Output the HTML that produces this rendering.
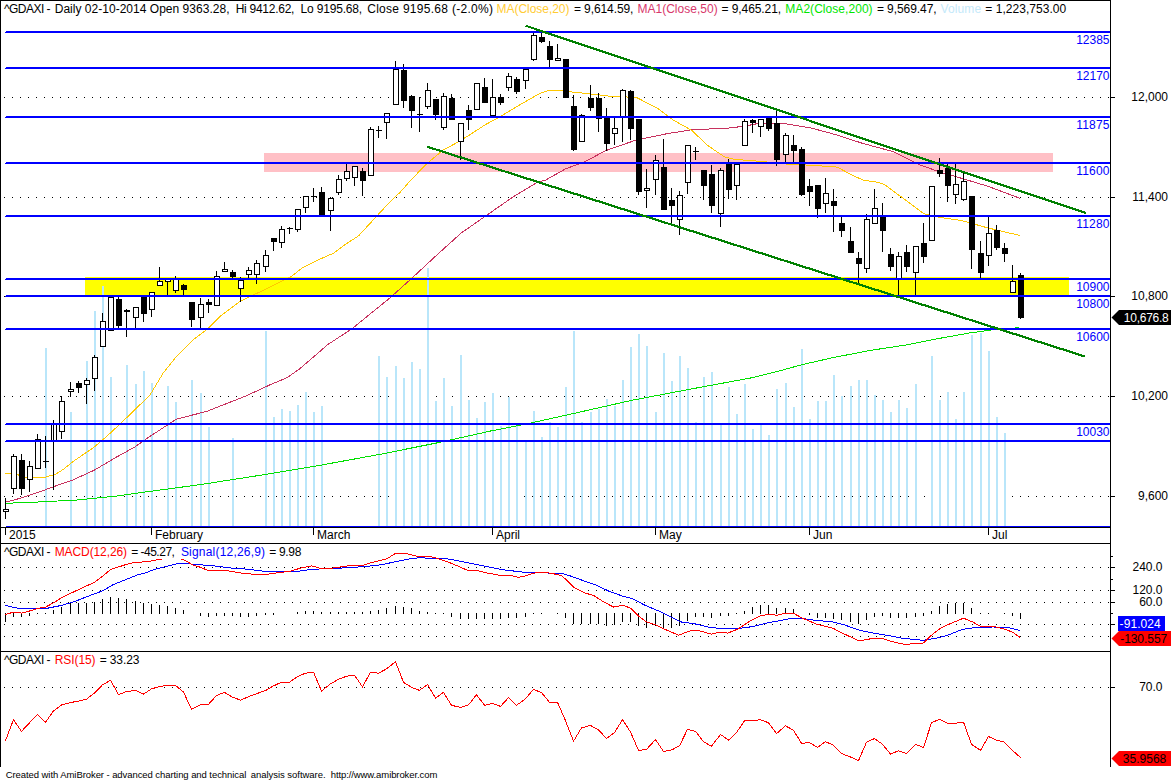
<!DOCTYPE html><html><head><meta charset="utf-8"><title>^GDAXI chart</title>
<style>html,body{margin:0;padding:0;background:#fff}body{width:1171px;height:781px;overflow:hidden}svg{display:block}text{font-family:"Liberation Sans",Arial,sans-serif;font-size:12px;fill:#000}.c{shape-rendering:crispEdges}.b{fill:#0000ff}.s{font-size:11px}</style></head><body>
<svg width="1171" height="781" viewBox="0 0 1171 781">
<rect width="1171" height="781" fill="#fff"/>
<g class="c">
<rect x="264" y="153" width="789" height="19" fill="#ffc0c6"/>
<rect x="85" y="277" width="984" height="19" fill="#ffff00"/>
</g>
<line x1="4" y1="97.5" x2="1110" y2="97.5" stroke="#000" stroke-width="1" stroke-dasharray="1 7" class="c"/>
<line x1="4" y1="197.5" x2="1110" y2="197.5" stroke="#000" stroke-width="1" stroke-dasharray="1 7" class="c"/>
<line x1="4" y1="296.5" x2="1110" y2="296.5" stroke="#000" stroke-width="1" stroke-dasharray="1 7" class="c"/>
<line x1="4" y1="396.5" x2="1110" y2="396.5" stroke="#000" stroke-width="1" stroke-dasharray="1 7" class="c"/>
<line x1="4" y1="496.5" x2="1110" y2="496.5" stroke="#000" stroke-width="1" stroke-dasharray="1 7" class="c"/>
<line x1="4" y1="567.5" x2="1110" y2="567.5" stroke="#000" stroke-width="1" stroke-dasharray="1 7" class="c"/>
<line x1="4" y1="590.5" x2="1110" y2="590.5" stroke="#000" stroke-width="1" stroke-dasharray="1 7" class="c"/>
<line x1="4" y1="602.5" x2="1110" y2="602.5" stroke="#000" stroke-width="1" stroke-dasharray="1 7" class="c"/>
<line x1="4" y1="624.5" x2="1110" y2="624.5" stroke="#000" stroke-width="1" stroke-dasharray="1 7" class="c"/>
<line x1="4" y1="636.5" x2="1110" y2="636.5" stroke="#000" stroke-width="1" stroke-dasharray="1 7" class="c"/>
<line x1="4" y1="687.5" x2="1110" y2="687.5" stroke="#000" stroke-width="1" stroke-dasharray="1 7" class="c"/>
<g class="c" fill="#b9e6fa">
<rect x="45" y="348" width="2" height="178"/>
<rect x="70" y="412" width="2" height="114"/>
<rect x="86" y="361" width="2" height="165"/>
<rect x="94" y="311" width="2" height="215"/>
<rect x="102" y="286" width="2" height="240"/>
<rect x="110" y="377" width="2" height="149"/>
<rect x="126" y="365" width="2" height="161"/>
<rect x="135" y="384" width="2" height="142"/>
<rect x="143" y="371" width="2" height="155"/>
<rect x="151" y="383" width="2" height="143"/>
<rect x="167" y="386" width="2" height="140"/>
<rect x="175" y="402" width="2" height="124"/>
<rect x="191" y="380" width="2" height="146"/>
<rect x="200" y="393" width="2" height="133"/>
<rect x="208" y="427" width="2" height="99"/>
<rect x="232" y="438" width="2" height="88"/>
<rect x="265" y="331" width="2" height="195"/>
<rect x="273" y="417" width="2" height="109"/>
<rect x="281" y="409" width="2" height="117"/>
<rect x="289" y="411" width="2" height="115"/>
<rect x="297" y="405" width="2" height="121"/>
<rect x="305" y="392" width="2" height="134"/>
<rect x="313" y="412" width="2" height="114"/>
<rect x="321" y="406" width="2" height="120"/>
<rect x="378" y="356" width="2" height="170"/>
<rect x="386" y="377" width="2" height="149"/>
<rect x="395" y="366" width="2" height="160"/>
<rect x="403" y="378" width="2" height="148"/>
<rect x="411" y="362" width="2" height="164"/>
<rect x="419" y="369" width="2" height="157"/>
<rect x="427" y="268" width="2" height="258"/>
<rect x="435" y="401" width="2" height="125"/>
<rect x="443" y="378" width="2" height="148"/>
<rect x="451" y="406" width="2" height="120"/>
<rect x="460" y="355" width="2" height="171"/>
<rect x="468" y="400" width="2" height="126"/>
<rect x="476" y="418" width="2" height="108"/>
<rect x="484" y="402" width="2" height="124"/>
<rect x="492" y="393" width="2" height="133"/>
<rect x="500" y="426" width="2" height="100"/>
<rect x="508" y="397" width="2" height="129"/>
<rect x="516" y="426" width="2" height="100"/>
<rect x="525" y="440" width="2" height="86"/>
<rect x="533" y="411" width="2" height="115"/>
<rect x="541" y="437" width="2" height="89"/>
<rect x="549" y="422" width="2" height="104"/>
<rect x="557" y="427" width="2" height="99"/>
<rect x="565" y="387" width="2" height="139"/>
<rect x="573" y="331" width="2" height="195"/>
<rect x="581" y="422" width="2" height="104"/>
<rect x="590" y="412" width="2" height="114"/>
<rect x="598" y="409" width="2" height="117"/>
<rect x="606" y="399" width="2" height="127"/>
<rect x="614" y="406" width="2" height="120"/>
<rect x="622" y="380" width="2" height="146"/>
<rect x="630" y="347" width="2" height="179"/>
<rect x="638" y="334" width="2" height="192"/>
<rect x="646" y="346" width="2" height="180"/>
<rect x="655" y="412" width="2" height="114"/>
<rect x="663" y="353" width="2" height="173"/>
<rect x="671" y="381" width="2" height="145"/>
<rect x="679" y="356" width="2" height="170"/>
<rect x="687" y="368" width="2" height="158"/>
<rect x="695" y="422" width="2" height="104"/>
<rect x="703" y="377" width="2" height="149"/>
<rect x="711" y="372" width="2" height="154"/>
<rect x="720" y="424" width="2" height="102"/>
<rect x="728" y="387" width="2" height="139"/>
<rect x="736" y="414" width="2" height="112"/>
<rect x="744" y="384" width="2" height="142"/>
<rect x="752" y="429" width="2" height="97"/>
<rect x="760" y="424" width="2" height="102"/>
<rect x="768" y="435" width="2" height="91"/>
<rect x="776" y="389" width="2" height="137"/>
<rect x="785" y="383" width="2" height="143"/>
<rect x="793" y="407" width="2" height="119"/>
<rect x="801" y="349" width="2" height="177"/>
<rect x="809" y="419" width="2" height="107"/>
<rect x="817" y="401" width="2" height="125"/>
<rect x="825" y="401" width="2" height="125"/>
<rect x="833" y="375" width="2" height="151"/>
<rect x="841" y="396" width="2" height="130"/>
<rect x="850" y="386" width="2" height="140"/>
<rect x="858" y="380" width="2" height="146"/>
<rect x="866" y="380" width="2" height="146"/>
<rect x="874" y="395" width="2" height="131"/>
<rect x="882" y="400" width="2" height="126"/>
<rect x="890" y="412" width="2" height="114"/>
<rect x="898" y="400" width="2" height="126"/>
<rect x="906" y="408" width="2" height="118"/>
<rect x="915" y="384" width="2" height="142"/>
<rect x="931" y="356" width="2" height="170"/>
<rect x="939" y="400" width="2" height="126"/>
<rect x="947" y="392" width="2" height="134"/>
<rect x="955" y="419" width="2" height="107"/>
<rect x="963" y="392" width="2" height="134"/>
<rect x="971" y="335" width="2" height="191"/>
<rect x="980" y="333" width="2" height="193"/>
<rect x="988" y="351" width="2" height="175"/>
<rect x="996" y="417" width="2" height="109"/>
<rect x="1004" y="433" width="2" height="93"/>
</g>
<polyline points="5.8,503.3 38.4,502.0 76.8,500.0 115.2,496.2 149.8,491.4 199.7,484.7 255.0,476.1 313.9,466.4 378.7,454.6 440.5,442.2 490.6,431.0 525.0,424.3 573.9,413.4 632.8,400.1 691.7,388.9 750.6,378.0 775.0,372.1 801.5,364.8 833.9,357.4 872.2,350.1 907.5,344.8 939.9,338.3 969.3,333.0 995.8,329.4 1019.4,327.7" fill="none" stroke="#00e000" stroke-width="1" class="c"/>
<polyline points="5.8,502.0 21.1,498.1 38.4,492.3 53.8,486.6 73.0,479.9 94.1,470.3 115.2,457.8 134.4,447.2 149.8,436.5 176.4,419.1 206.4,411.5 246.3,395.8 270.0,384.8 286.9,377.8 299.2,369.2 319.8,351.5 327.9,344.5 352.2,328.6 372.8,311.8 389.4,298.4 409.9,280.0 435.5,256.2 461.1,233.1 486.8,215.2 512.4,197.3 538.0,181.9 545.8,180.0 565.4,168.9 585.0,161.6 605.5,150.7 636.2,140.0 667.0,133.7 691.5,129.8 728.4,128.1 745.0,126.1 760.6,123.0 786.2,123.8 811.8,128.2 837.4,135.1 863.0,143.5 892.7,151.5 918.3,164.3 940.0,172.0 961.8,178.4 987.4,186.1 1020.2,198.4" fill="none" stroke="#c8325f" stroke-width="1" class="c"/>
<polyline points="4.8,473.5 17.3,474.1 21.1,477.0 44.2,477.6 55.7,474.1 63.4,469.3 73.0,461.6 94.1,447.2 107.5,435.7 122.9,421.3 150.0,395.0 163.1,373.2 176.4,356.6 193.1,339.9 208.8,327.9 219.7,316.6 239.7,301.6 248.4,297.1 264.1,290.0 291.0,276.7 302.5,267.7 317.9,260.0 333.3,253.3 345.0,244.7 358.7,235.7 389.4,202.4 400.3,192.1 410.9,180.0 427.2,163.3 443.5,149.8 457.9,142.2 471.8,133.5 485.0,124.9 500.1,116.6 521.9,103.6 539.3,93.8 548.0,90.5 563.2,90.5 574.1,92.3 585.0,93.3 611.6,96.4 636.2,97.4 656.7,107.7 673.1,120.0 691.5,130.2 707.9,145.6 724.3,156.8 735.0,159.4 760.6,161.4 786.2,164.0 811.8,165.3 837.4,167.1 850.2,174.2 863.0,180.1 878.4,182.4 885.0,184.8 900.4,196.3 923.4,213.5 936.2,216.8 961.8,220.6 987.4,227.8 1019.9,235.5" fill="none" stroke="#ffc800" stroke-width="1" class="c"/>
<g class="c">
<rect x="5" y="498" width="1" height="21" fill="#000"/>
<rect x="3.5" y="509.5" width="5" height="2" fill="#fff" stroke="#000" stroke-width="1"/>
<rect x="13" y="454" width="1" height="40" fill="#000"/>
<rect x="11.5" y="456.5" width="5" height="32" fill="#fff" stroke="#000" stroke-width="1"/>
<rect x="21" y="454" width="1" height="41" fill="#000"/>
<rect x="19" y="460" width="6" height="29" fill="#000"/>
<rect x="29" y="461" width="1" height="31" fill="#000"/>
<rect x="27.5" y="466.5" width="5" height="13" fill="#fff" stroke="#000" stroke-width="1"/>
<rect x="37" y="434" width="1" height="35" fill="#000"/>
<rect x="35.5" y="439.5" width="5" height="29" fill="#fff" stroke="#000" stroke-width="1"/>
<rect x="45" y="436" width="1" height="32" fill="#000"/>
<rect x="43" y="461" width="6" height="1" fill="#000"/>
<rect x="53" y="420" width="1" height="70" fill="#000"/>
<rect x="51.5" y="424.5" width="5" height="16" fill="none" stroke="#000" stroke-width="1"/>
<rect x="61" y="396" width="1" height="43" fill="#000"/>
<rect x="59.5" y="401.5" width="5" height="30" fill="#fff" stroke="#000" stroke-width="1"/>
<rect x="70" y="382" width="1" height="15" fill="#000"/>
<rect x="68.5" y="389.5" width="5" height="2" fill="#fff" stroke="#000" stroke-width="1"/>
<rect x="78" y="381" width="1" height="12" fill="#000"/>
<rect x="76" y="383" width="6" height="5" fill="#000"/>
<rect x="86" y="378" width="1" height="26" fill="#000"/>
<rect x="84.5" y="380.5" width="5" height="4" fill="#fff" stroke="#000" stroke-width="1"/>
<rect x="94" y="355" width="1" height="36" fill="#000"/>
<rect x="92.5" y="357.5" width="5" height="21" fill="#fff" stroke="#000" stroke-width="1"/>
<rect x="102" y="313" width="1" height="34" fill="#000"/>
<rect x="100.5" y="321.5" width="5" height="25" fill="#fff" stroke="#000" stroke-width="1"/>
<rect x="110" y="297" width="1" height="34" fill="#000"/>
<rect x="108.5" y="297.5" width="5" height="33" fill="#fff" stroke="#000" stroke-width="1"/>
<rect x="118" y="297" width="1" height="33" fill="#000"/>
<rect x="116" y="299" width="6" height="27" fill="#000"/>
<rect x="126" y="309" width="1" height="28" fill="#000"/>
<rect x="124" y="310" width="6" height="2" fill="#000"/>
<rect x="135" y="307" width="1" height="22" fill="#000"/>
<rect x="133.5" y="307.5" width="5" height="10" fill="#fff" stroke="#000" stroke-width="1"/>
<rect x="143" y="296" width="1" height="26" fill="#000"/>
<rect x="141" y="297" width="6" height="17" fill="#000"/>
<rect x="151" y="292" width="1" height="25" fill="#000"/>
<rect x="149.5" y="292.5" width="5" height="17" fill="#fff" stroke="#000" stroke-width="1"/>
<rect x="159" y="267" width="1" height="19" fill="#000"/>
<rect x="157.5" y="281.5" width="5" height="4" fill="#fff" stroke="#000" stroke-width="1"/>
<rect x="167" y="279" width="1" height="16" fill="#000"/>
<rect x="165.5" y="279.5" width="5" height="2" fill="#fff" stroke="#000" stroke-width="1"/>
<rect x="175" y="276" width="1" height="17" fill="#000"/>
<rect x="173.5" y="279.5" width="5" height="11" fill="#fff" stroke="#000" stroke-width="1"/>
<rect x="183" y="284" width="1" height="11" fill="#000"/>
<rect x="181" y="285" width="6" height="5" fill="#000"/>
<rect x="191" y="302" width="1" height="25" fill="#000"/>
<rect x="189" y="302" width="6" height="18" fill="#000"/>
<rect x="200" y="298" width="1" height="30" fill="#000"/>
<rect x="198.5" y="304.5" width="5" height="13" fill="#fff" stroke="#000" stroke-width="1"/>
<rect x="208" y="299" width="1" height="14" fill="#000"/>
<rect x="206" y="302" width="6" height="3" fill="#000"/>
<rect x="216" y="271" width="1" height="35" fill="#000"/>
<rect x="214.5" y="276.5" width="5" height="29" fill="#fff" stroke="#000" stroke-width="1"/>
<rect x="224" y="262" width="1" height="10" fill="#000"/>
<rect x="222.5" y="269.5" width="5" height="2" fill="#fff" stroke="#000" stroke-width="1"/>
<rect x="232" y="270" width="1" height="8" fill="#000"/>
<rect x="230" y="272" width="6" height="5" fill="#000"/>
<rect x="240" y="277" width="1" height="25" fill="#000"/>
<rect x="238.5" y="280.5" width="5" height="8" fill="#fff" stroke="#000" stroke-width="1"/>
<rect x="248" y="267" width="1" height="11" fill="#000"/>
<rect x="246.5" y="270.5" width="5" height="4" fill="#fff" stroke="#000" stroke-width="1"/>
<rect x="256" y="260" width="1" height="24" fill="#000"/>
<rect x="254.5" y="263.5" width="5" height="11" fill="#fff" stroke="#000" stroke-width="1"/>
<rect x="265" y="250" width="1" height="22" fill="#000"/>
<rect x="263.5" y="255.5" width="5" height="11" fill="#fff" stroke="#000" stroke-width="1"/>
<rect x="273" y="238" width="1" height="13" fill="#000"/>
<rect x="271" y="238" width="6" height="4" fill="#000"/>
<rect x="281" y="226" width="1" height="22" fill="#000"/>
<rect x="279.5" y="229.5" width="5" height="13" fill="#fff" stroke="#000" stroke-width="1"/>
<rect x="289" y="227" width="1" height="7" fill="#000"/>
<rect x="287" y="228" width="6" height="1" fill="#000"/>
<rect x="297" y="209" width="1" height="23" fill="#000"/>
<rect x="295.5" y="209.5" width="5" height="20" fill="#fff" stroke="#000" stroke-width="1"/>
<rect x="305" y="196" width="1" height="17" fill="#000"/>
<rect x="303.5" y="196.5" width="5" height="11" fill="#fff" stroke="#000" stroke-width="1"/>
<rect x="313" y="188" width="1" height="14" fill="#000"/>
<rect x="311" y="196" width="6" height="1" fill="#000"/>
<rect x="321" y="187" width="1" height="28" fill="#000"/>
<rect x="319" y="192" width="6" height="23" fill="#000"/>
<rect x="330" y="197" width="1" height="34" fill="#000"/>
<rect x="328.5" y="198.5" width="5" height="12" fill="#fff" stroke="#000" stroke-width="1"/>
<rect x="338" y="175" width="1" height="20" fill="#000"/>
<rect x="336.5" y="179.5" width="5" height="13" fill="#fff" stroke="#000" stroke-width="1"/>
<rect x="346" y="164" width="1" height="17" fill="#000"/>
<rect x="344.5" y="171.5" width="5" height="7" fill="#fff" stroke="#000" stroke-width="1"/>
<rect x="354" y="166" width="1" height="20" fill="#000"/>
<rect x="352.5" y="166.5" width="5" height="11" fill="#fff" stroke="#000" stroke-width="1"/>
<rect x="362" y="168" width="1" height="28" fill="#000"/>
<rect x="360" y="171" width="6" height="10" fill="#000"/>
<rect x="370" y="127" width="1" height="49" fill="#000"/>
<rect x="368.5" y="129.5" width="5" height="46" fill="#fff" stroke="#000" stroke-width="1"/>
<rect x="378" y="126" width="1" height="12" fill="#000"/>
<rect x="376" y="130" width="6" height="1" fill="#000"/>
<rect x="386" y="113" width="1" height="26" fill="#000"/>
<rect x="384.5" y="113.5" width="5" height="9" fill="#fff" stroke="#000" stroke-width="1"/>
<rect x="395" y="61" width="1" height="44" fill="#000"/>
<rect x="393.5" y="69.5" width="5" height="35" fill="#fff" stroke="#000" stroke-width="1"/>
<rect x="403" y="64" width="1" height="44" fill="#000"/>
<rect x="401" y="70" width="6" height="31" fill="#000"/>
<rect x="411" y="95" width="1" height="33" fill="#000"/>
<rect x="409" y="96" width="6" height="15" fill="#000"/>
<rect x="419" y="97" width="1" height="35" fill="#000"/>
<rect x="417" y="114" width="6" height="1" fill="#000"/>
<rect x="427" y="83" width="1" height="26" fill="#000"/>
<rect x="425.5" y="90.5" width="5" height="16" fill="#fff" stroke="#000" stroke-width="1"/>
<rect x="435" y="99" width="1" height="21" fill="#000"/>
<rect x="433" y="99" width="6" height="16" fill="#000"/>
<rect x="443" y="93" width="1" height="37" fill="#000"/>
<rect x="441.5" y="96.5" width="5" height="31" fill="#fff" stroke="#000" stroke-width="1"/>
<rect x="451" y="94" width="1" height="26" fill="#000"/>
<rect x="449" y="98" width="6" height="22" fill="#000"/>
<rect x="460" y="123" width="1" height="37" fill="#000"/>
<rect x="458.5" y="123.5" width="5" height="18" fill="#fff" stroke="#000" stroke-width="1"/>
<rect x="468" y="105" width="1" height="25" fill="#000"/>
<rect x="466" y="110" width="6" height="10" fill="#000"/>
<rect x="476" y="83" width="1" height="27" fill="#000"/>
<rect x="474.5" y="83.5" width="5" height="26" fill="#fff" stroke="#000" stroke-width="1"/>
<rect x="484" y="78" width="1" height="25" fill="#000"/>
<rect x="482" y="87" width="6" height="16" fill="#000"/>
<rect x="492" y="79" width="1" height="37" fill="#000"/>
<rect x="490.5" y="97.5" width="5" height="18" fill="#fff" stroke="#000" stroke-width="1"/>
<rect x="500" y="94" width="1" height="11" fill="#000"/>
<rect x="498" y="97" width="6" height="6" fill="#000"/>
<rect x="508" y="73" width="1" height="18" fill="#000"/>
<rect x="506.5" y="76.5" width="5" height="11" fill="#fff" stroke="#000" stroke-width="1"/>
<rect x="516" y="77" width="1" height="17" fill="#000"/>
<rect x="514" y="79" width="6" height="13" fill="#000"/>
<rect x="525" y="69" width="1" height="20" fill="#000"/>
<rect x="523.5" y="69.5" width="5" height="11" fill="#fff" stroke="#000" stroke-width="1"/>
<rect x="533" y="32" width="1" height="29" fill="#000"/>
<rect x="531.5" y="35.5" width="5" height="24" fill="#fff" stroke="#000" stroke-width="1"/>
<rect x="541" y="33" width="1" height="10" fill="#000"/>
<rect x="539" y="37" width="6" height="5" fill="#000"/>
<rect x="549" y="41" width="1" height="26" fill="#000"/>
<rect x="547" y="46" width="6" height="14" fill="#000"/>
<rect x="557" y="44" width="1" height="17" fill="#000"/>
<rect x="555.5" y="58.5" width="5" height="2" fill="#fff" stroke="#000" stroke-width="1"/>
<rect x="565" y="59" width="1" height="39" fill="#000"/>
<rect x="563" y="59" width="6" height="39" fill="#000"/>
<rect x="573" y="95" width="1" height="56" fill="#000"/>
<rect x="571" y="106" width="6" height="44" fill="#000"/>
<rect x="581" y="114" width="1" height="28" fill="#000"/>
<rect x="579.5" y="115.5" width="5" height="26" fill="#fff" stroke="#000" stroke-width="1"/>
<rect x="590" y="85" width="1" height="26" fill="#000"/>
<rect x="588" y="98" width="6" height="10" fill="#000"/>
<rect x="598" y="93" width="1" height="39" fill="#000"/>
<rect x="596" y="98" width="6" height="21" fill="#000"/>
<rect x="606" y="108" width="1" height="43" fill="#000"/>
<rect x="604" y="118" width="6" height="26" fill="#000"/>
<rect x="614" y="118" width="1" height="27" fill="#000"/>
<rect x="612.5" y="128.5" width="5" height="5" fill="#fff" stroke="#000" stroke-width="1"/>
<rect x="622" y="89" width="1" height="53" fill="#000"/>
<rect x="620.5" y="90.5" width="5" height="26" fill="#fff" stroke="#000" stroke-width="1"/>
<rect x="630" y="90" width="1" height="50" fill="#000"/>
<rect x="628" y="91" width="6" height="38" fill="#000"/>
<rect x="638" y="119" width="1" height="76" fill="#000"/>
<rect x="636" y="119" width="6" height="73" fill="#000"/>
<rect x="646" y="169" width="1" height="39" fill="#000"/>
<rect x="644.5" y="188.5" width="5" height="2" fill="#fff" stroke="#000" stroke-width="1"/>
<rect x="655" y="155" width="1" height="40" fill="#000"/>
<rect x="653.5" y="160.5" width="5" height="19" fill="#fff" stroke="#000" stroke-width="1"/>
<rect x="663" y="139" width="1" height="71" fill="#000"/>
<rect x="661" y="167" width="6" height="43" fill="#000"/>
<rect x="671" y="188" width="1" height="35" fill="#000"/>
<rect x="669" y="200" width="6" height="6" fill="#000"/>
<rect x="679" y="191" width="1" height="44" fill="#000"/>
<rect x="677.5" y="195.5" width="5" height="24" fill="#fff" stroke="#000" stroke-width="1"/>
<rect x="687" y="145" width="1" height="49" fill="#000"/>
<rect x="685.5" y="145.5" width="5" height="37" fill="#fff" stroke="#000" stroke-width="1"/>
<rect x="695" y="147" width="1" height="13" fill="#000"/>
<rect x="693" y="151" width="6" height="1" fill="#000"/>
<rect x="703" y="170" width="1" height="30" fill="#000"/>
<rect x="701" y="170" width="6" height="16" fill="#000"/>
<rect x="711" y="165" width="1" height="48" fill="#000"/>
<rect x="709" y="174" width="6" height="32" fill="#000"/>
<rect x="720" y="168" width="1" height="59" fill="#000"/>
<rect x="718.5" y="170.5" width="5" height="43" fill="#fff" stroke="#000" stroke-width="1"/>
<rect x="728" y="159" width="1" height="40" fill="#000"/>
<rect x="726" y="163" width="6" height="27" fill="#000"/>
<rect x="736" y="164" width="1" height="36" fill="#000"/>
<rect x="734.5" y="164.5" width="5" height="21" fill="#fff" stroke="#000" stroke-width="1"/>
<rect x="744" y="119" width="1" height="27" fill="#000"/>
<rect x="742.5" y="121.5" width="5" height="24" fill="#fff" stroke="#000" stroke-width="1"/>
<rect x="752" y="119" width="1" height="14" fill="#000"/>
<rect x="750" y="120" width="6" height="3" fill="#000"/>
<rect x="760" y="119" width="1" height="18" fill="#000"/>
<rect x="758.5" y="119.5" width="5" height="7" fill="#fff" stroke="#000" stroke-width="1"/>
<rect x="768" y="117" width="1" height="14" fill="#000"/>
<rect x="766" y="117" width="6" height="12" fill="#000"/>
<rect x="776" y="110" width="1" height="56" fill="#000"/>
<rect x="774" y="123" width="6" height="37" fill="#000"/>
<rect x="785" y="133" width="1" height="30" fill="#000"/>
<rect x="783.5" y="135.5" width="5" height="19" fill="#fff" stroke="#000" stroke-width="1"/>
<rect x="793" y="135" width="1" height="28" fill="#000"/>
<rect x="791" y="145" width="6" height="6" fill="#000"/>
<rect x="801" y="147" width="1" height="49" fill="#000"/>
<rect x="799" y="149" width="6" height="46" fill="#000"/>
<rect x="809" y="179" width="1" height="27" fill="#000"/>
<rect x="807" y="186" width="6" height="6" fill="#000"/>
<rect x="817" y="185" width="1" height="33" fill="#000"/>
<rect x="815" y="185" width="6" height="24" fill="#000"/>
<rect x="825" y="178" width="1" height="35" fill="#000"/>
<rect x="823.5" y="193.5" width="5" height="10" fill="#fff" stroke="#000" stroke-width="1"/>
<rect x="833" y="189" width="1" height="43" fill="#000"/>
<rect x="831" y="201" width="6" height="5" fill="#000"/>
<rect x="841" y="216" width="1" height="21" fill="#000"/>
<rect x="839" y="223" width="6" height="8" fill="#000"/>
<rect x="850" y="227" width="1" height="26" fill="#000"/>
<rect x="848" y="241" width="6" height="12" fill="#000"/>
<rect x="858" y="252" width="1" height="33" fill="#000"/>
<rect x="856" y="258" width="6" height="6" fill="#000"/>
<rect x="866" y="214" width="1" height="59" fill="#000"/>
<rect x="864.5" y="219.5" width="5" height="49" fill="#fff" stroke="#000" stroke-width="1"/>
<rect x="874" y="189" width="1" height="35" fill="#000"/>
<rect x="872.5" y="208.5" width="5" height="15" fill="#fff" stroke="#000" stroke-width="1"/>
<rect x="882" y="203" width="1" height="49" fill="#000"/>
<rect x="880" y="216" width="6" height="15" fill="#000"/>
<rect x="890" y="248" width="1" height="23" fill="#000"/>
<rect x="888" y="254" width="6" height="13" fill="#000"/>
<rect x="898" y="252" width="1" height="44" fill="#000"/>
<rect x="896.5" y="256.5" width="5" height="22" fill="#fff" stroke="#000" stroke-width="1"/>
<rect x="906" y="245" width="1" height="27" fill="#000"/>
<rect x="904" y="252" width="6" height="15" fill="#000"/>
<rect x="915" y="246" width="1" height="50" fill="#000"/>
<rect x="913.5" y="246.5" width="5" height="26" fill="#fff" stroke="#000" stroke-width="1"/>
<rect x="923" y="223" width="1" height="40" fill="#000"/>
<rect x="921" y="243" width="6" height="14" fill="#000"/>
<rect x="931" y="186" width="1" height="55" fill="#000"/>
<rect x="929.5" y="186.5" width="5" height="54" fill="#fff" stroke="#000" stroke-width="1"/>
<rect x="939" y="158" width="1" height="19" fill="#000"/>
<rect x="937" y="170" width="6" height="4" fill="#000"/>
<rect x="947" y="164" width="1" height="38" fill="#000"/>
<rect x="945" y="168" width="6" height="18" fill="#000"/>
<rect x="955" y="164" width="1" height="40" fill="#000"/>
<rect x="953.5" y="184.5" width="5" height="10" fill="#fff" stroke="#000" stroke-width="1"/>
<rect x="963" y="173" width="1" height="28" fill="#000"/>
<rect x="961.5" y="181.5" width="5" height="18" fill="#fff" stroke="#000" stroke-width="1"/>
<rect x="971" y="196" width="1" height="73" fill="#000"/>
<rect x="969" y="196" width="6" height="54" fill="#000"/>
<rect x="980" y="241" width="1" height="38" fill="#000"/>
<rect x="978" y="253" width="6" height="20" fill="#000"/>
<rect x="988" y="216" width="1" height="50" fill="#000"/>
<rect x="986.5" y="233.5" width="5" height="22" fill="#fff" stroke="#000" stroke-width="1"/>
<rect x="996" y="225" width="1" height="25" fill="#000"/>
<rect x="994" y="230" width="6" height="18" fill="#000"/>
<rect x="1004" y="243" width="1" height="19" fill="#000"/>
<rect x="1002" y="248" width="6" height="6" fill="#000"/>
<rect x="1012" y="265" width="1" height="28" fill="#000"/>
<rect x="1010.5" y="281.5" width="5" height="11" fill="#fff" stroke="#000" stroke-width="1"/>
<rect x="1020" y="273" width="1" height="46" fill="#000"/>
<rect x="1018" y="275" width="6" height="43" fill="#000"/>
</g>
<g class="c b">
<rect x="6" y="31" width="1104" height="1"/><rect x="5" y="32" width="1105" height="1"/>
<rect x="6" y="67" width="1104" height="1"/><rect x="5" y="68" width="1105" height="1"/>
<rect x="6" y="116" width="1104" height="1"/><rect x="5" y="117" width="1105" height="1"/>
<rect x="6" y="162" width="1104" height="1"/><rect x="5" y="163" width="1105" height="1"/>
<rect x="6" y="215" width="1104" height="1"/><rect x="5" y="216" width="1105" height="1"/>
<rect x="6" y="278" width="1104" height="1"/><rect x="5" y="279" width="1105" height="1"/>
<rect x="6" y="295" width="1104" height="1"/><rect x="5" y="296" width="1105" height="1"/>
<rect x="6" y="328" width="1104" height="1"/><rect x="5" y="329" width="1105" height="1"/>
<rect x="6" y="423" width="1104" height="1"/><rect x="5" y="424" width="1105" height="1"/>
<rect x="6" y="440" width="1104" height="1"/><rect x="5" y="441" width="1105" height="1"/>
<rect x="6" y="526" width="1104" height="1"/>
</g>
<line x1="525.6" y1="25.7" x2="1085.8" y2="213.1" stroke="#008000" stroke-width="2.2" class="c"/>
<line x1="427.2" y1="146.7" x2="1085" y2="356.5" stroke="#008000" stroke-width="2.2" class="c"/>
<g class="c" fill="#000">
<rect x="0" y="0" width="1111" height="1"/>
<rect x="0" y="0" width="1" height="767"/>
<rect x="1110" y="0" width="1" height="767"/>
<rect x="0" y="543" width="1111" height="1"/>
<rect x="0" y="527" width="1111" height="1"/>
<rect x="0" y="651" width="1111" height="1"/>
<rect x="1111" y="97" width="4" height="1"/>
<rect x="1111" y="197" width="4" height="1"/>
<rect x="1111" y="296" width="4" height="1"/>
<rect x="1111" y="396" width="4" height="1"/>
<rect x="1111" y="496" width="4" height="1"/>
<rect x="1111" y="567" width="4" height="1"/>
<rect x="1111" y="590" width="4" height="1"/>
<rect x="1111" y="602" width="4" height="1"/>
<rect x="1111" y="624" width="4" height="1"/>
<rect x="1111" y="687" width="4" height="1"/>
<rect x="1111" y="556" width="2" height="1"/>
<rect x="1111" y="579" width="2" height="1"/>
<rect x="1111" y="613" width="2" height="1"/>
<rect x="5" y="528" width="1" height="7"/>
<rect x="151" y="528" width="1" height="7"/>
<rect x="313" y="528" width="1" height="7"/>
<rect x="492" y="528" width="1" height="7"/>
<rect x="655" y="528" width="1" height="7"/>
<rect x="809" y="528" width="1" height="7"/>
<rect x="988" y="528" width="1" height="7"/>
</g>
<text x="9" y="538.7">2015</text>
<text x="155" y="538.7">February</text>
<text x="317" y="538.7">March</text>
<text x="496" y="538.7">April</text>
<text x="659" y="538.7">May</text>
<text x="813" y="538.7">Jun</text>
<text x="992" y="538.7">Jul</text>
<text x="1109.5" y="43.7" text-anchor="end" textLength="33.3" lengthAdjust="spacing" style="fill:#0000ff">12385</text>
<text x="1109.5" y="79.7" text-anchor="end" textLength="33.3" lengthAdjust="spacing" style="fill:#0000ff">12170</text>
<text x="1109.5" y="128.7" text-anchor="end" textLength="33.3" lengthAdjust="spacing" style="fill:#0000ff">11875</text>
<text x="1109.5" y="174.7" text-anchor="end" textLength="33.3" lengthAdjust="spacing" style="fill:#0000ff">11600</text>
<text x="1109.5" y="227.7" text-anchor="end" textLength="33.3" lengthAdjust="spacing" style="fill:#0000ff">11280</text>
<text x="1109.5" y="290.7" text-anchor="end" textLength="33.3" lengthAdjust="spacing" style="fill:#0000ff">10900</text>
<text x="1109.5" y="307.7" text-anchor="end" textLength="33.3" lengthAdjust="spacing" style="fill:#0000ff">10800</text>
<text x="1109.5" y="340.7" text-anchor="end" textLength="33.3" lengthAdjust="spacing" style="fill:#0000ff">10600</text>
<text x="1109.5" y="435.7" text-anchor="end" textLength="33.3" lengthAdjust="spacing" style="fill:#0000ff">10030</text>
<text x="1168" y="101.3" text-anchor="end">12,000</text>
<text x="1168" y="201.3" text-anchor="end">11,400</text>
<text x="1168" y="300.3" text-anchor="end">10,800</text>
<text x="1168" y="400.3" text-anchor="end">10,200</text>
<text x="1168" y="500.3" text-anchor="end">9,600</text>
<text x="1162.5" y="571.3" text-anchor="end">240.0</text>
<text x="1162.5" y="594.3" text-anchor="end">120.0</text>
<text x="1162.5" y="606.3" text-anchor="end">60.0</text>
<text x="1162.5" y="691.3" text-anchor="end">70.0</text>
<g class="c" fill="#000">
<rect x="5" y="613" width="1" height="9"/>
<rect x="13" y="613" width="1" height="4"/>
<rect x="21" y="613" width="1" height="4"/>
<rect x="29" y="613" width="1" height="3"/>
<rect x="37" y="613" width="1" height="1"/>
<rect x="45" y="613" width="1" height="1"/>
<rect x="53" y="610" width="1" height="4"/>
<rect x="61" y="607" width="1" height="7"/>
<rect x="70" y="603" width="1" height="11"/>
<rect x="78" y="603" width="1" height="11"/>
<rect x="86" y="603" width="1" height="11"/>
<rect x="94" y="602" width="1" height="12"/>
<rect x="102" y="599" width="1" height="15"/>
<rect x="110" y="597" width="1" height="17"/>
<rect x="118" y="598" width="1" height="16"/>
<rect x="126" y="599" width="1" height="15"/>
<rect x="135" y="601" width="1" height="13"/>
<rect x="143" y="603" width="1" height="11"/>
<rect x="151" y="604" width="1" height="10"/>
<rect x="159" y="605" width="1" height="9"/>
<rect x="167" y="606" width="1" height="8"/>
<rect x="175" y="608" width="1" height="6"/>
<rect x="183" y="610" width="1" height="4"/>
<rect x="200" y="613" width="1" height="3"/>
<rect x="208" y="613" width="1" height="4"/>
<rect x="216" y="613" width="1" height="3"/>
<rect x="224" y="613" width="1" height="3"/>
<rect x="232" y="613" width="1" height="3"/>
<rect x="240" y="613" width="1" height="4"/>
<rect x="248" y="613" width="1" height="4"/>
<rect x="256" y="613" width="1" height="3"/>
<rect x="265" y="613" width="1" height="2"/>
<rect x="273" y="613" width="1" height="2"/>
<rect x="297" y="612" width="1" height="2"/>
<rect x="305" y="611" width="1" height="3"/>
<rect x="313" y="611" width="1" height="3"/>
<rect x="321" y="612" width="1" height="2"/>
<rect x="330" y="612" width="1" height="2"/>
<rect x="338" y="612" width="1" height="2"/>
<rect x="346" y="612" width="1" height="2"/>
<rect x="354" y="612" width="1" height="2"/>
<rect x="362" y="612" width="1" height="2"/>
<rect x="370" y="611" width="1" height="3"/>
<rect x="378" y="610" width="1" height="4"/>
<rect x="386" y="608" width="1" height="6"/>
<rect x="395" y="606" width="1" height="8"/>
<rect x="403" y="607" width="1" height="7"/>
<rect x="411" y="608" width="1" height="6"/>
<rect x="419" y="611" width="1" height="3"/>
<rect x="427" y="612" width="1" height="2"/>
<rect x="435" y="613" width="1" height="1"/>
<rect x="443" y="613" width="1" height="1"/>
<rect x="451" y="613" width="1" height="4"/>
<rect x="460" y="613" width="1" height="6"/>
<rect x="468" y="613" width="1" height="6"/>
<rect x="476" y="613" width="1" height="6"/>
<rect x="484" y="613" width="1" height="6"/>
<rect x="492" y="613" width="1" height="6"/>
<rect x="500" y="613" width="1" height="6"/>
<rect x="508" y="613" width="1" height="5"/>
<rect x="516" y="613" width="1" height="5"/>
<rect x="525" y="613" width="1" height="4"/>
<rect x="533" y="613" width="1" height="1"/>
<rect x="541" y="613" width="1" height="1"/>
<rect x="557" y="613" width="1" height="1"/>
<rect x="565" y="613" width="1" height="5"/>
<rect x="573" y="613" width="1" height="11"/>
<rect x="581" y="613" width="1" height="11"/>
<rect x="590" y="613" width="1" height="11"/>
<rect x="598" y="613" width="1" height="11"/>
<rect x="606" y="613" width="1" height="13"/>
<rect x="614" y="613" width="1" height="12"/>
<rect x="622" y="613" width="1" height="9"/>
<rect x="630" y="613" width="1" height="9"/>
<rect x="638" y="613" width="1" height="13"/>
<rect x="646" y="613" width="1" height="15"/>
<rect x="655" y="613" width="1" height="13"/>
<rect x="663" y="613" width="1" height="15"/>
<rect x="671" y="613" width="1" height="15"/>
<rect x="679" y="613" width="1" height="13"/>
<rect x="687" y="613" width="1" height="8"/>
<rect x="695" y="613" width="1" height="4"/>
<rect x="703" y="613" width="1" height="4"/>
<rect x="711" y="613" width="1" height="5"/>
<rect x="720" y="613" width="1" height="3"/>
<rect x="728" y="613" width="1" height="3"/>
<rect x="736" y="613" width="1" height="1"/>
<rect x="744" y="611" width="1" height="3"/>
<rect x="752" y="607" width="1" height="7"/>
<rect x="760" y="605" width="1" height="9"/>
<rect x="768" y="605" width="1" height="9"/>
<rect x="776" y="608" width="1" height="6"/>
<rect x="785" y="608" width="1" height="6"/>
<rect x="793" y="609" width="1" height="5"/>
<rect x="809" y="613" width="1" height="2"/>
<rect x="817" y="613" width="1" height="5"/>
<rect x="825" y="613" width="1" height="5"/>
<rect x="833" y="613" width="1" height="6"/>
<rect x="841" y="613" width="1" height="7"/>
<rect x="850" y="613" width="1" height="9"/>
<rect x="858" y="613" width="1" height="11"/>
<rect x="866" y="613" width="1" height="7"/>
<rect x="874" y="613" width="1" height="4"/>
<rect x="882" y="613" width="1" height="3"/>
<rect x="890" y="613" width="1" height="5"/>
<rect x="898" y="613" width="1" height="5"/>
<rect x="906" y="613" width="1" height="5"/>
<rect x="915" y="613" width="1" height="4"/>
<rect x="923" y="613" width="1" height="3"/>
<rect x="931" y="611" width="1" height="3"/>
<rect x="939" y="606" width="1" height="8"/>
<rect x="947" y="604" width="1" height="10"/>
<rect x="955" y="603" width="1" height="11"/>
<rect x="963" y="603" width="1" height="11"/>
<rect x="971" y="608" width="1" height="6"/>
<rect x="980" y="613" width="1" height="1"/>
<rect x="988" y="613" width="1" height="1"/>
<rect x="1004" y="613" width="1" height="1"/>
<rect x="1012" y="613" width="1" height="3"/>
<rect x="1020" y="613" width="1" height="6"/>
</g>
<polyline points="5.1,605.4 18.8,608.5 46.1,608.5 61.5,605.4 73.4,602.0 86.6,596.8 102.5,590.9 112.7,584.9 126.4,579.4 136.6,575.2 145.2,572.9 155.4,569.2 170.8,565.2 179.3,563.2 186.2,563.2 193.0,564.4 210.5,565.5 231.0,568.0 247.4,569.2 263.8,571.2 282.2,571.6 298.6,571.2 313.0,569.2 333.5,568.6 349.9,567.5 366.3,566.5 382.7,564.5 395.0,561.8 407.3,559.3 417.5,557.9 444.6,558.3 461.0,561.4 481.5,565.5 502.0,569.6 522.5,572.1 534.8,572.7 561.4,573.3 569.6,575.7 584.0,580.9 596.3,585.0 608.6,591.1 622.9,596.2 633.1,598.9 645.4,605.5 660.2,611.6 670.5,616.7 680.7,621.9 695.1,623.9 709.4,627.4 725.8,629.0 738.1,628.6 752.5,626.6 768.9,622.5 781.2,620.4 791.4,618.2 801.7,618.4 816.0,620.4 832.4,621.9 842.7,624.3 859.1,630.1 873.4,633.1 886.4,635.2 902.8,638.3 923.3,640.3 935.6,638.3 947.9,635.2 962.2,629.4 976.6,627.4 993.0,627.0 1007.3,627.4 1020.4,630.5" fill="none" stroke="#0000ff" stroke-width="1" class="c"/>
<polyline points="5.1,614.4 13.7,612.2 21.7,613.1 29.5,611.0 37.6,608.5 45.6,607.1 53.5,602.8 63.2,596.8 76.9,590.4 94.4,582.3 102.5,576.3 111.0,569.2 118.4,567.0 126.4,564.4 134.9,562.3 146.9,561.8 162.3,558.9 172.0,557.5 181.0,558.9 186.2,561.0 193.0,565.2 198.2,566.5 208.4,570.6 226.9,570.6 245.3,573.7 263.8,574.7 278.1,572.7 290.4,571.2 300.7,568.0 312.0,565.9 321.2,568.6 333.5,568.0 349.9,565.5 362.2,565.5 372.4,562.4 386.8,558.9 395.0,553.6 405.2,553.2 417.5,556.3 429.2,556.3 440.5,559.3 452.8,563.9 468.2,570.6 477.4,570.6 485.6,572.7 499.9,575.3 510.2,575.3 518.4,577.4 526.6,575.7 532.7,573.3 543.0,572.1 553.2,573.7 561.4,575.7 567.6,580.9 573.7,587.4 584.0,592.6 594.2,595.8 604.5,602.4 613.7,607.1 622.9,605.1 631.1,608.5 639.3,616.7 646.5,621.9 656.1,624.9 664.3,629.0 678.7,635.2 688.9,631.1 697.1,630.1 711.5,634.2 719.7,632.1 727.9,633.1 738.1,629.0 750.4,620.8 760.7,615.7 768.9,614.3 777.1,615.3 785.3,613.3 793.5,613.3 801.7,617.8 816.0,623.9 832.4,628.0 844.7,634.2 859.1,640.9 873.4,638.3 882.3,638.3 890.5,641.3 904.8,644.4 923.3,643.0 931.5,635.2 940.7,628.0 952.0,622.9 963.5,618.2 972.5,621.9 980.7,626.4 993.0,626.4 1003.2,628.6 1012.4,632.1 1020.4,637.6" fill="none" stroke="#ff0000" stroke-width="1" class="c"/>
<polyline points="5.5,740.6 13.5,719.7 21.5,731.4 29.5,722.8 37.5,714.6 45.5,722.4 53.5,710.9 61.5,704.9 70.5,702.5 78.5,701.2 86.5,699.2 94.5,693.0 102.5,684.8 110.5,680.3 118.5,694.5 126.5,691.6 135.5,690.4 143.5,694.1 151.5,688.9 159.5,686.5 167.5,685.5 175.5,685.5 183.5,692.0 191.5,709.4 200.5,704.7 208.5,704.3 216.5,695.5 224.5,692.4 232.5,697.1 240.5,700.2 248.5,696.7 256.5,693.7 265.5,690.6 273.5,685.9 281.5,682.2 289.5,682.2 297.5,676.6 305.5,673.2 313.5,672.1 321.5,691.0 330.5,683.8 338.5,679.3 346.5,676.2 354.5,675.2 362.5,686.9 370.5,672.1 378.5,673.2 386.5,668.9 395.5,661.7 403.5,682.4 411.5,687.3 419.5,690.4 427.5,684.4 435.5,698.2 443.5,692.4 451.5,705.3 460.5,707.4 468.5,704.9 476.5,694.7 484.5,705.3 492.5,703.3 500.5,706.4 508.5,697.6 516.5,705.3 525.5,698.8 533.5,689.4 541.5,692.6 549.5,702.3 557.5,702.3 565.5,720.7 573.5,741.2 581.5,727.9 590.5,725.4 598.5,729.9 606.5,738.5 614.5,732.6 622.5,719.7 630.5,732.0 638.5,750.4 646.5,749.4 655.5,739.6 663.5,751.5 671.5,750.0 679.5,745.9 687.5,729.3 695.5,731.3 703.5,741.8 711.5,746.3 720.5,734.4 728.5,740.2 736.5,732.6 744.5,720.7 752.5,720.7 760.5,719.7 768.5,722.8 776.5,733.6 785.5,725.8 793.5,730.3 801.5,743.3 809.5,742.6 817.5,747.4 825.5,741.6 833.5,745.3 841.5,753.5 850.5,757.0 858.5,760.7 866.5,742.2 874.5,738.5 882.5,744.3 890.5,754.1 898.5,750.7 906.5,753.5 915.5,744.5 923.5,747.4 931.5,722.8 939.5,719.3 947.5,723.2 955.5,723.2 963.5,722.1 971.5,744.3 980.5,750.4 988.5,736.5 996.5,740.2 1004.5,742.2 1012.5,750.4 1020.5,757.6" fill="none" stroke="#ff0000" stroke-width="1" class="c"/>
<rect x="3" y="2" width="1065" height="15" fill="#fff"/>
<text x="3.9" y="12.8" textLength="46.7" lengthAdjust="spacing" style="fill:#000">^GDAXI -</text>
<text x="54.7" y="12.8" textLength="174.8" lengthAdjust="spacing" style="fill:#000">Daily 02-10-2014 Open 9363.28,</text>
<text x="235.7" y="12.8" textLength="58.7" lengthAdjust="spacing" style="fill:#000">Hi 9412.62,</text>
<text x="300.6" y="12.8" textLength="61.5" lengthAdjust="spacing" style="fill:#000">Lo 9195.68,</text>
<text x="367.2" y="12.8" textLength="125.7" lengthAdjust="spacing" style="fill:#000">Close 9195.68 (-2.0%)</text>
<text x="496.5" y="12.8" textLength="73" lengthAdjust="spacing" style="fill:#ffcc33">MA(Close,20)</text>
<text x="573.9" y="12.8" textLength="59.5" lengthAdjust="spacing" style="fill:#000">= 9,614.59,</text>
<text x="637.4" y="12.8" textLength="80.3" lengthAdjust="spacing" style="fill:#d8386c">MA1(Close,50)</text>
<text x="721.6" y="12.8" textLength="59.5" lengthAdjust="spacing" style="fill:#000">= 9,465.21,</text>
<text x="785.3" y="12.8" textLength="87.3" lengthAdjust="spacing" style="fill:#00e600">MA2(Close,200)</text>
<text x="876.9" y="12.8" textLength="59.7" lengthAdjust="spacing" style="fill:#000">= 9,569.47,</text>
<text x="940.4" y="12.8" textLength="40.8" lengthAdjust="spacing" style="fill:#c4e9fa">Volume</text>
<text x="985.3" y="12.8" textLength="80.9" lengthAdjust="spacing" style="fill:#000">= 1,223,753.00</text>
<rect x="3" y="545" width="299" height="14" fill="#fff"/>
<text x="3.9" y="555.8" textLength="46.7" lengthAdjust="spacing" style="fill:#000">^GDAXI -</text>
<text x="54.7" y="555.8" textLength="72.4" lengthAdjust="spacing" style="fill:#ff0000">MACD(12,26)</text>
<text x="131.2" y="555.8" textLength="43.7" lengthAdjust="spacing" style="fill:#000">= -45.27,</text>
<text x="180.9" y="555.8" textLength="84.2" lengthAdjust="spacing" style="fill:#0000ff">Signal(12,26,9)</text>
<text x="269.2" y="555.8" textLength="32.2" lengthAdjust="spacing" style="fill:#000">= 9.98</text>
<rect x="3" y="653" width="137" height="14" fill="#fff"/>
<text x="3.9" y="663.5" textLength="46.7" lengthAdjust="spacing" style="fill:#000">^GDAXI -</text>
<text x="54.7" y="663.5" textLength="40.9" lengthAdjust="spacing" style="fill:#ff0000">RSI(15)</text>
<text x="99.7" y="663.5" textLength="39.7" lengthAdjust="spacing" style="fill:#000">= 33.23</text>
<polygon points="1111.5,317.5 1119,310 1171,310 1171,325 1119,325" fill="#000"/>
<text x="1168.8" y="322" text-anchor="end" textLength="45" lengthAdjust="spacing" style="fill:#fff">10,676.8</text>
<rect x="1118" y="616" width="47" height="15" fill="#0000ff" class="c"/>
<text x="1160.8" y="628" text-anchor="end" textLength="41.2" lengthAdjust="spacing" style="fill:#fff">-91.024</text>
<polygon points="1111.5,638.5 1119,631 1171,631 1171,646 1119,646" fill="#ff0000"/>
<text x="1167.2" y="643" text-anchor="end" textLength="47" lengthAdjust="spacing">-130.557</text>
<polygon points="1111.5,758.5 1119,751 1171,751 1171,766 1119,766" fill="#ff0000"/>
<text x="1166.3" y="763" text-anchor="end" textLength="43.5" lengthAdjust="spacing">35.9568</text>
<text x="5.7" y="777.7" textLength="240.6" lengthAdjust="spacing" style="font-size:9.5px">Created with AmiBroker - advanced charting and technical</text>
<text x="250.7" y="777.7" textLength="74.9" lengthAdjust="spacing" style="font-size:9.5px">analysis software.</text>
<text x="330.7" y="777.7" textLength="106.6" lengthAdjust="spacing" style="font-size:9.5px">http://www.amibroker.com</text>
</svg></body></html>
